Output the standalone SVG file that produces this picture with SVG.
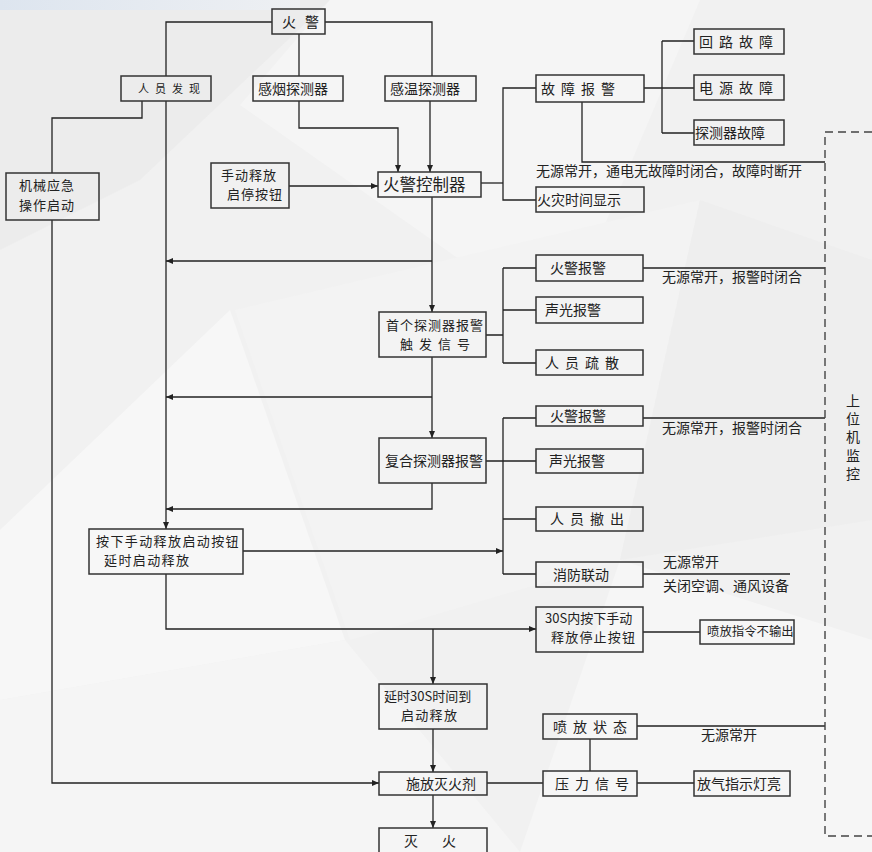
<svg xmlns="http://www.w3.org/2000/svg" width="872" height="852" viewBox="0 0 872 852">
<style>
.b{fill:none;stroke:#333;stroke-width:1.5}
.c{fill:none;stroke:#222;stroke-width:1.3}
.a{marker-end:url(#ar)}
text{font-family:"Noto Sans CJK SC","Noto Sans",sans-serif;font-size:14px;fill:#222}
.s{letter-spacing:6px}
.sm{font-size:11px}
.t{font-size:13px}
</style>
<defs>
<marker id="ar" markerUnits="userSpaceOnUse" markerWidth="8" markerHeight="6" refX="7" refY="3" orient="auto"><path d="M0,0 L7,3 L0,6 z" fill="#222"/></marker>
<linearGradient id="top" x1="0" y1="0" x2="1" y2="0"><stop offset="0" stop-color="#dde5ef"/><stop offset="1" stop-color="#eef0f3"/></linearGradient>
</defs>
<g id="background">
<rect width="872" height="852" fill="#f1f1f1"/>
<polygon points="0,0 330,0 140,180 0,250" fill="#ececec"/>
<polygon points="330,0 700,0 560,330 240,105" fill="#f5f5f5"/>
<polygon points="0,530 230,310 345,640 0,700" fill="#f7f7f7"/>
<polygon points="235,310 700,200 620,560 350,640" fill="#f3f3f3"/>
<polygon points="700,200 872,260 872,520 620,560" fill="#eeeeee"/>
<polygon points="0,700 345,640 520,852 0,852" fill="#f5f5f5"/>
<polygon points="520,852 620,560 872,640 872,852" fill="#f6f6f6"/>
<rect width="300" height="10" fill="url(#top)"/>
</g>
<g id="connectors">
<path class="c" d="M272,22 H166 V76"/>
<path class="c" d="M325,22 H432 V76"/>
<path class="c" d="M299,34 V76"/>
<path class="c a" d="M299,101 V128 H398 V172"/>
<path class="c a" d="M430,101 V172"/>
<path class="c a" d="M289,186 H378"/>
<path class="c" d="M481,183 H503"/>
<path class="c" d="M536,88 H503 V200 H536"/>
<path class="c" d="M644,88 H694 M662,41 V133 M662,41 H694 M662,133 H694"/>
<path class="c" d="M582,102 V162 H825"/>
<path class="c" d="M142,101 V118 H52 V173"/>
<path class="c a" d="M166,101 V529"/>
<path class="c a" d="M52,220 V783 H379"/>
<path class="c a" d="M432,197 V312"/>
<path class="c a" d="M432,261 H166"/>
<path class="c a" d="M432,357 V438"/>
<path class="c a" d="M432,397 H166"/>
<path class="c a" d="M432,483 V509 H166"/>
<path class="c" d="M486,335 H503 M503,268 V363 M503,268 H536 M503,310 H536 M503,363 H536"/>
<path class="c" d="M643,268 H825"/>
<path class="c" d="M486,461 H536 M503,418 V574 M503,418 H536 M503,519 H536 M503,574 H536"/>
<path class="c" d="M643,418 H825"/>
<path class="c a" d="M243,551 H503"/>
<path class="c" d="M643,574 H790"/>
<path class="c a" d="M166,574 V629 H536"/>
<path class="c a" d="M433,629 V684"/>
<path class="c" d="M643,632 H700"/>
<path class="c a" d="M433,729 V772"/>
<path class="c a" d="M433,795 V828"/>
<path class="c" d="M487,783 H543"/>
<path class="c" d="M590,739 V771"/>
<path class="c" d="M637,783 H694"/>
<path class="c" d="M637,726 H825"/>
<path d="M872,132 H825 V836 H872" fill="none" stroke="#444" stroke-width="1.4" stroke-dasharray="8 5"/>
<text x="536" y="176">无源常开，通电无故障时闭合，故障时断开</text>
<text x="662" y="282">无源常开，报警时闭合</text>
<text x="662" y="433">无源常开，报警时闭合</text>
<text x="663" y="567">无源常开</text>
<text x="663" y="591">关闭空调、通风设备</text>
<text x="701" y="740">无源常开</text>
</g>
<g id="n-huojing"><rect class="b" x="272" y="9" width="53" height="25"/><text x="282" y="27" style="letter-spacing:9px">火警</text></g>
<g id="n-renyuan"><rect class="b" x="121" y="76" width="90" height="25"/><text x="138" y="93" class="sm s">人员发现</text></g>
<g id="n-ganyan"><rect class="b" x="253" y="76" width="90" height="25"/><text x="258" y="94">感烟探测器</text></g>
<g id="n-ganwen"><rect class="b" x="385" y="76" width="91" height="25"/><text x="390" y="94">感温探测器</text></g>
<g id="n-guzhang"><rect class="b" x="536" y="75" width="108" height="27"/><text x="541" y="94" class="s">故障报警</text></g>
<g id="n-huilu"><rect class="b" x="694" y="29" width="90" height="25"/><text x="699" y="47" class="s">回路故障</text></g>
<g id="n-dianyuan"><rect class="b" x="694" y="75" width="90" height="25"/><text x="699" y="93" class="s">电源故障</text></g>
<g id="n-tance"><rect class="b" x="694" y="120" width="90" height="25"/><text x="695" y="138">探测器故障</text></g>
<g id="n-huozai"><rect class="b" x="536" y="187" width="108" height="25"/><text x="537" y="205">火灾时间显示</text></g>
<g id="n-kongzhi"><rect class="b" x="378" y="172" width="103" height="25"/><text x="383" y="191" style="font-size:16.5px">火警控制器</text></g>
<g id="n-shoudong"><rect class="b" x="211" y="163" width="78" height="45"/><text x="221" y="180" class="t" style="letter-spacing:1px">手动释放</text><text x="227" y="199" class="t" style="letter-spacing:1px">启停按钮</text></g>
<g id="n-jixie"><rect class="b" x="6" y="173" width="93" height="47"/><text x="19" y="190" class="t" style="letter-spacing:1px">机械应急</text><text x="19" y="210" class="t" style="letter-spacing:1px">操作启动</text></g>
<g id="n-shouge"><rect class="b" x="379" y="312" width="107" height="45"/><text x="386" y="330" class="t" style="letter-spacing:1px">首个探测器报警</text><text x="400" y="349" class="t" style="letter-spacing:6px">触发信号</text></g>
<g id="n-bj1"><rect class="b" x="536" y="255" width="107" height="26"/><text x="550" y="273">火警报警</text></g>
<g id="n-sg1"><rect class="b" x="536" y="297" width="107" height="26"/><text x="545" y="315">声光报警</text></g>
<g id="n-shusan"><rect class="b" x="536" y="350" width="107" height="25"/><text x="545" y="368" class="s">人员疏散</text></g>
<g id="n-fuhe"><rect class="b" x="379" y="438" width="107" height="45"/><text x="385" y="466">复合探测器报警</text></g>
<g id="n-bj2"><rect class="b" x="536" y="406" width="107" height="20"/><text x="550" y="421">火警报警</text></g>
<g id="n-sg2"><rect class="b" x="536" y="449" width="107" height="24"/><text x="549" y="466">声光报警</text></g>
<g id="n-chechu"><rect class="b" x="536" y="507" width="107" height="24"/><text x="550" y="524" class="s">人员撤出</text></g>
<g id="n-liandong"><rect class="b" x="536" y="562" width="107" height="25"/><text x="553" y="580">消防联动</text></g>
<g id="n-anxia"><rect class="b" x="89" y="529" width="154" height="45"/><text x="96" y="546" class="t" style="letter-spacing:1.4px">按下手动释放启动按钮</text><text x="104" y="565" class="t" style="letter-spacing:1.4px">延时启动释放</text></g>
<g id="n-30s"><rect class="b" x="536" y="607" width="107" height="45"/><text x="545" y="623" class="t">30S内按下手动</text><text x="551" y="642" class="t" style="letter-spacing:1.2px">释放停止按钮</text></g>
<g id="n-penfangzhiling"><rect class="b" x="700" y="620" width="94" height="24"/><text x="707" y="636" style="font-size:12.4px">喷放指令不输出</text></g>
<g id="n-yanshi"><rect class="b" x="379" y="684" width="108" height="45"/><text x="384" y="701" class="t">延时30S时间到</text><text x="401" y="720" class="t" style="letter-spacing:1.3px">启动释放</text></g>
<g id="n-shifang"><rect class="b" x="379" y="772" width="108" height="23"/><text x="406" y="789">施放灭火剂</text></g>
<g id="n-miehuo"><rect class="b" x="379" y="828" width="108" height="30"/><text x="404" y="846" style="letter-spacing:24px">灭火</text></g>
<g id="n-zhuangtai"><rect class="b" x="543" y="714" width="94" height="25"/><text x="553" y="732" class="s">喷放状态</text></g>
<g id="n-yali"><rect class="b" x="543" y="771" width="94" height="25"/><text x="555" y="789" class="s">压力信号</text></g>
<g id="n-fangqi"><rect class="b" x="694" y="771" width="96" height="25"/><text x="697" y="789">放气指示灯亮</text></g>
<g id="n-shangwei"><text x="846" y="406">上<tspan x="846" dy="18.2">位</tspan><tspan x="846" dy="18.2">机</tspan><tspan x="846" dy="18.2">监</tspan><tspan x="846" dy="18.2">控</tspan></text></g>
</svg>
